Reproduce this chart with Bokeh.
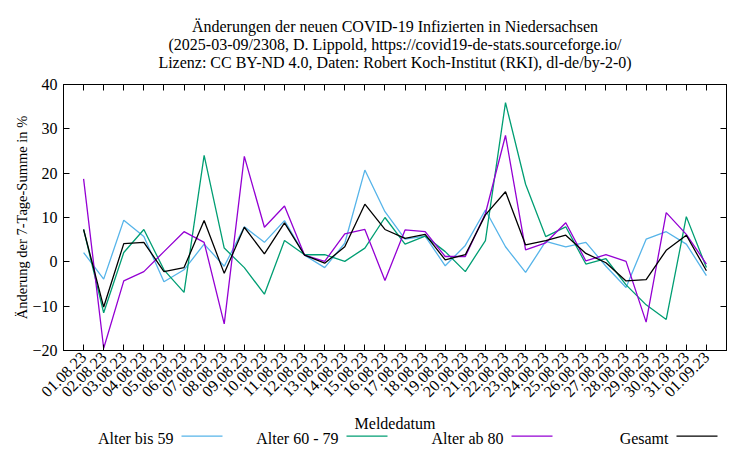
import math
from bokeh.plotting import figure
from bokeh.layouts import column
from bokeh.models import Range1d, FixedTicker, LinearAxis, Title
from bokeh.core.properties import value
from bokeh.embed import file_html
from bokeh.resources import INLINE

# ---- data ----
dates = ["01.08.23", "02.08.23", "03.08.23", "04.08.23", "05.08.23", "06.08.23",
         "07.08.23", "08.08.23", "09.08.23", "10.08.23", "11.08.23", "12.08.23",
         "13.08.23", "14.08.23", "15.08.23", "16.08.23", "17.08.23", "18.08.23",
         "19.08.23", "20.08.23", "21.08.23", "22.08.23", "23.08.23", "24.08.23",
         "25.08.23", "26.08.23", "27.08.23", "28.08.23", "29.08.23", "30.08.23",
         "31.08.23", "01.09.23"]

alter_bis_59 = [2.1, -3.9, 9.4, 5.7, -4.5, -1.8, 4.0, -1.0, 7.9, 4.4, 9.3, 1.5,
                -1.3, 4.2, 20.7, 11.3, 5.1, 5.8, -0.9, 3.7, 11.7, 3.4, -2.4, 4.6,
                3.4, 4.4, -1.0, -5.8, 5.1, 6.8, 4.0, -3.1]
alter_60_79 = [7.3, -11.5, 2.1, 7.3, -1.8, -6.9, 24.0, 3.1, -1.3, -7.3, 4.8, 1.6,
               1.6, 0.1, 3.1, 10.0, 4.0, 5.8, 2.3, -2.2, 4.8, 35.9, 17.5, 5.7,
               7.9, -0.5, 0.7, -5.2, -9.7, -13.0, 10.2, -1.3]
alter_ab_80 = [18.7, -19.5, -4.3, -2.2, 2.3, 6.8, 4.4, -14.0, 23.8, 7.8, 12.6, 1.5,
               0.1, 6.3, 7.3, -4.2, 7.2, 6.8, 1.2, 1.2, 10.9, 28.5, 2.7, 4.3,
               8.8, 0.2, 1.6, 0.1, -13.6, 11.1, 6.2, -0.5]
gesamt = [7.3, -10.2, 4.1, 4.4, -2.2, -1.3, 9.3, -2.6, 7.8, 1.8, 8.8, 1.5,
          -0.3, 3.4, 13.0, 7.3, 5.3, 6.2, 0.45, 1.6, 10.6, 15.8, 3.8, 4.8,
          6.0, 1.9, -0.2, -4.3, -4.0, 2.6, 6.0, -2.0]

series_names = ["Alter bis 59", "Alter 60 - 79", "Alter ab 80", "Gesamt"]
series_values = [alter_bis_59, alter_60_79, alter_ab_80, gesamt]
series_colors = ["#56B4E9", "#009E73", "#9400D3", "#000000"]

y_ticks = [-20, -10, 0, 10, 20, 30, 40]

title_lines = ["Änderungen der neuen COVID-19 Infizierten in Niedersachsen",
               "(2025-03-09/2308, D. Lippold, https://covid19-de-stats.sourceforge.io/",
               "Lizenz: CC BY-ND 4.0, Daten: Robert Koch-Institut (RKI), dl-de/by-2-0)"]
y_label = "Änderung der 7-Tage-Summe in %"
x_label = "Meldedatum"

FONT = "Liberation Serif"
FS = "16px"
W = 750
BL, BR = 63, 24            # left / right border of the plot frame
TITLE_H, MAIN_H, LEG_H = 74, 336, 40
CX = BL + (W - BL - BR) / 2  # centre of plot frame


def blank_fig(h, y_top):
    f = figure(width=W, height=h, output_backend="svg", toolbar_location=None,
               x_range=Range1d(BL, W - BR), y_range=Range1d(y_top + h, y_top),
               min_border_left=BL, min_border_right=BR, min_border_top=0,
               min_border_bottom=0, x_axis_location=None, y_axis_location=None)
    f.grid.visible = False
    f.outline_line_color = None
    f.border_fill_color = "white"
    f.background_fill_color = "white"
    return f


# ---- title strip ----
tf = blank_fig(TITLE_H, 0)
tf.text(x=[CX] * 3, y=[26, 44, 62], text=title_lines, text_align="center",
        text_baseline="middle", text_font=value(FONT), text_font_size=value(FS),
        text_color="black")

# ---- main plot ----
x = list(range(len(dates)))
p = figure(width=W, height=MAIN_H, output_backend="svg", toolbar_location=None,
           x_range=Range1d(-1, len(dates)), y_range=Range1d(-20, 40),
           min_border_left=BL, min_border_right=BR, min_border_top=10,
           min_border_bottom=60)
p.grid.visible = False
p.outline_line_color = "black"
p.outline_line_width = 1
p.border_fill_color = "white"

for vals, col in zip(series_values, series_colors):
    p.line(x, vals, line_color=col, line_width=1.3)


def style_axis(ax):
    ax.axis_line_color = "black"
    ax.major_tick_line_color = "black"
    ax.major_tick_in = 6
    ax.major_tick_out = 0
    ax.minor_tick_line_color = None
    ax.major_label_text_font = FONT
    ax.major_label_text_font_size = FS
    ax.major_label_text_color = "black"


xa = p.xaxis[0]
xa.ticker = FixedTicker(ticks=x)
xa.major_label_overrides = {i: d for i, d in enumerate(dates)}
xa.major_label_orientation = math.pi / 4
style_axis(xa)
xa.major_label_standoff = 4

ya = p.yaxis[0]
ya.ticker = FixedTicker(ticks=y_ticks)
style_axis(ya)
ya.major_label_standoff = 6

top = LinearAxis(ticker=FixedTicker(ticks=x),
                 major_label_overrides={i: "" for i in x})
style_axis(top)
top.major_label_standoff = 0
p.add_layout(top, "above")

right = LinearAxis(ticker=FixedTicker(ticks=y_ticks),
                   major_label_overrides={t: "" for t in y_ticks})
style_axis(right)
right.major_label_standoff = 0
p.add_layout(right, "right")

p.add_layout(Title(text=y_label, align="center", offset=13, standoff=0,
                   text_font=FONT, text_font_size="14.5px",
                   text_font_style="normal", text_color="black"), "left")

# ---- x-axis label and legend strip ----
lf = blank_fig(LEG_H, MAIN_H + TITLE_H)
lf.text(x=[CX], y=[423], text=[x_label], text_align="center",
        text_baseline="middle", text_font=value(FONT), text_font_size=value(FS),
        text_color="black")
leg_x = [173 + 165 * k for k in range(len(series_names))]
lf.text(x=leg_x, y=[437.5] * len(leg_x), text=series_names, text_align="right",
        text_baseline="middle", text_font=value(FONT), text_font_size=value(FS),
        text_color="black")
lf.segment(x0=[v + 8 for v in leg_x], x1=[v + 49 for v in leg_x],
           y0=[435.7] * len(leg_x), y1=[435.7] * len(leg_x),
           line_color=series_colors, line_width=1.3)

layout = column(tf, p, lf, spacing=0)
open("out.html", "w").write(file_html(layout, INLINE))
